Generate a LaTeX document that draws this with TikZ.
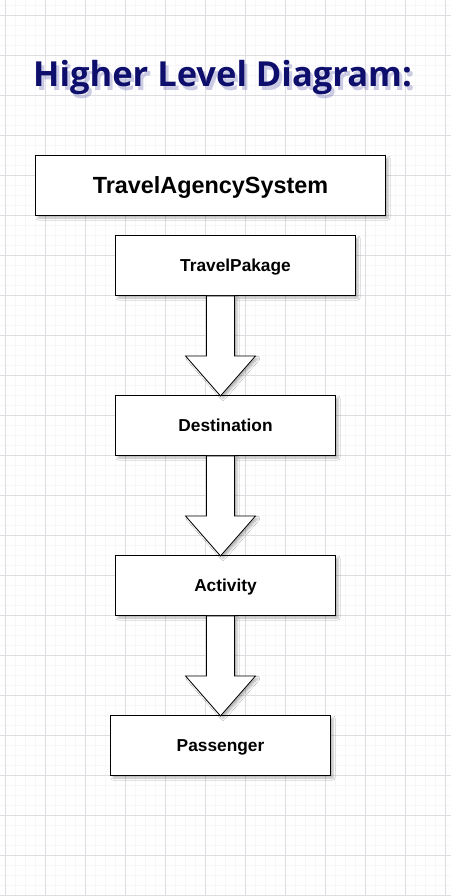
\documentclass[tikz,border=0pt]{standalone}
\usepackage{fontspec}
\setmainfont{Liberation Sans}
\newfontfamily\titlefont{Open Sans}
\usetikzlibrary{shadows.blur}
\definecolor{navy}{RGB}{14,14,108}
\definecolor{gridminor}{RGB}{247,247,249}
\definecolor{gridmajor}{RGB}{222,222,226}
\tikzset{
  minorline/.style={draw=gridminor, line width=0.8pt},
  majorline/.style={draw=gridmajor, line width=0.8pt},
  softshadow/.style={blur shadow={shadow xshift=2.5pt, shadow yshift=-2.5pt, shadow blur radius=2pt, shadow opacity=28}},
  box/.style={draw=black, fill=white, line width=0.9pt, inner sep=0pt, softshadow,
    text height=12.4pt, text depth=0pt,
    font=\bfseries\fontsize{17.3}{20}\selectfont},
  bigbox/.style={box, text height=16.8pt, font=\bfseries\fontsize{23.4}{28}\selectfont},
  blockarrow/.style={draw=black, fill=white, line width=0.8pt, line join=miter, softshadow},
  titletext/.style={anchor=base west, inner sep=0pt, font=\titlefont\bfseries\fontsize{34.5}{40}\selectfont},
}
\begin{document}
\begin{tikzpicture}[x=1pt,y=-1pt]
\useasboundingbox (0,0) rectangle (451,896);
\fill[white] (0,0) rectangle (451,896);
% grid
\foreach \g in {5,15,...,445} \draw[minorline] (\g,0) -- (\g,896);
\foreach \g in {5,15,...,895} \draw[minorline] (0,\g) -- (451,\g);
\foreach \g in {5,45,...,445} \draw[majorline] (\g,0) -- (\g,896);
\foreach \g in {15,55,...,895} \draw[majorline] (0,\g) -- (451,\g);
% title with its shadow
\node[titletext, text=blue!30!gray, opacity=0.3] (titleshadow) at (36,90.5) {Higher Level Diagram:};
\node[titletext, text=navy] (title) at (33,87) {Higher Level Diagram:};
% boxes
\node[bigbox, minimum width=350pt, minimum height=60pt] (tas) at (210.5,185.5) {TravelAgencySystem};
\node[box, minimum width=240pt, minimum height=60pt] (tp) at (235.5,265.5) {TravelPakage};
\node[box, minimum width=220pt, minimum height=60pt] (dst) at (225.5,425.5) {Destination};
\node[box, minimum width=220pt, minimum height=60pt] (act) at (225.5,585.5) {Activity};
\node[box, minimum width=220pt, minimum height=60pt] (pas) at (220.5,745.5) {Passenger};
% block arrows
\coordinate (ax) at (220.5,0);
\draw[blockarrow] (ax |- tp.south) ++(-14,0) -- ++(0,60) -- ++(-21,0) -- ++(35,40) -- ++(35,-40) -- ++(-21,0) -- ++(0,-60) -- cycle;
\draw[blockarrow] (ax |- dst.south) ++(-14,0) -- ++(0,60) -- ++(-21,0) -- ++(35,40) -- ++(35,-40) -- ++(-21,0) -- ++(0,-60) -- cycle;
\draw[blockarrow] (ax |- act.south) ++(-14,0) -- ++(0,60) -- ++(-21,0) -- ++(35,40) -- ++(35,-40) -- ++(-21,0) -- ++(0,-60) -- cycle;
\end{tikzpicture}
\end{document}
